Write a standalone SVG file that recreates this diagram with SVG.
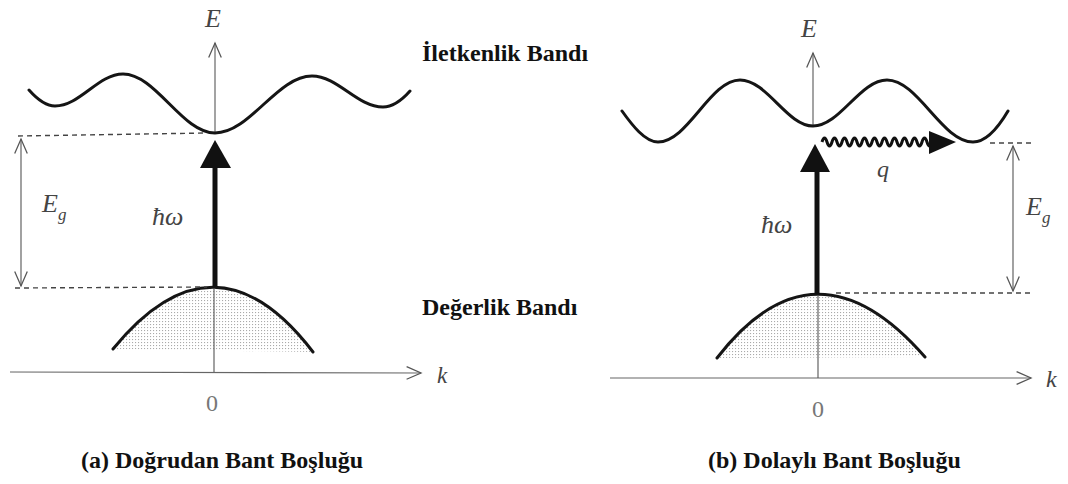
<svg xmlns="http://www.w3.org/2000/svg" width="1068" height="484" viewBox="0 0 1068 484">
<style>
.band{fill:none;stroke:#151515;stroke-width:3;stroke-linecap:round}
.axis{fill:none;stroke:#666;stroke-width:1.2}
.thin{fill:none;stroke:#555;stroke-width:1.1}
.dash{fill:none;stroke:#444;stroke-width:1.4;stroke-dasharray:5,4}
.shaft{fill:none;stroke:#111;stroke-width:5}
.head{fill:#111}
.lbl{font-family:"Liberation Serif",serif;font-weight:bold;font-size:24px;fill:#111}
.math{font-family:"Liberation Serif",serif;font-style:italic;fill:#444}
.zero{font-family:"Liberation Serif",serif;font-size:24px;fill:#777}
</style>
<defs>
<pattern id="dots" width="3" height="3" patternUnits="userSpaceOnUse">
<rect x="0" y="0" width="1.1" height="1.1" fill="#aaa"/>
</pattern>
<marker id="open" viewBox="0 0 20 20" refX="18" refY="10" markerWidth="18" markerHeight="18" markerUnits="userSpaceOnUse" orient="auto-start-reverse">
<path d="M2,3 L18,10 L2,17" fill="none" stroke="#555" stroke-width="1.4"/>
</marker>
</defs>
<rect width="1068" height="484" fill="#fff"/>

<g id="valence-a">
<path d="M113,349 Q215,224 313,352 Z" fill="url(#dots)"/>
<path class="band" d="M113,349 Q215,224 313,352"/>
</g>
<g id="valence-b">
<path d="M717,358 Q815,231 925,357 Z" fill="url(#dots)"/>
<path class="band" d="M717,358 Q815,231 925,357"/>
</g>

<g id="connectors">
<line class="axis" x1="10" y1="372" x2="421" y2="373" marker-end="url(#open)"/>
<line class="axis" x1="215" y1="133" x2="215" y2="43" marker-end="url(#open)"/>
<line class="thin" x1="214" y1="288" x2="214" y2="372"/>
<line class="axis" x1="610" y1="378" x2="1031" y2="378" marker-end="url(#open)"/>
<line class="axis" x1="813" y1="126" x2="813" y2="53" marker-end="url(#open)"/>
<line class="thin" x1="818" y1="295" x2="818" y2="378"/>
<path class="dash" d="M18,136 L207,133"/>
<path class="dash" d="M15,288 L207,287"/>
<path class="dash" d="M990,143 L1032,143"/>
<path class="dash" d="M836,293 L1034,293"/>
<line class="thin" x1="21" y1="139" x2="21" y2="286" marker-start="url(#open)" marker-end="url(#open)"/>
<line class="thin" x1="1013" y1="146" x2="1013" y2="291" marker-start="url(#open)" marker-end="url(#open)"/>
<line class="shaft" x1="215" y1="287" x2="215" y2="165"/>
<polygon class="head" points="215,140 200,168 231,168"/>
<line class="shaft" x1="817" y1="294" x2="817" y2="170"/>
<polygon class="head" points="815,144 800,172 830,172"/>
<path fill="none" stroke="#111" stroke-width="3" d="M822,142 q2.5,-8 5,0 t5,0 t5,0 t5,0 t5,0 t5,0 t5,0 t5,0 t5,0 t5,0 t5,0 t5,0 t5,0 t5,0 t5,0 t5,0 t5,0 t5,0 t5,0 t5,0 t5,0 t5,0"/>
<polygon class="head" points="929,131 956,142 929,154"/>
</g>

<g id="conduction-a">
<path class="band" d="M29,90 C37,99 46,106 55,106 C80,106 98,74 123,74 C156,74 182,133 215,133 C250,133 277,76 312,76 C338,76 357,107 383,107 C392,107 402,100 410,91"/>
</g>
<g id="conduction-b">
<path class="band" d="M622,111 C632,125 645,142 658,142 C688,142 710,80 740,80 C767,80 787,126 813,126 C840,126 860,80 887,80 C918,80 942,142 973,142 C986,142 998,128 1008,111"/>
</g>

<g id="labels-a">
<text class="math" x="205" y="27" font-size="26">E</text>
<text class="math" x="42" y="212" font-size="26">E<tspan font-size="17" dy="8">g</tspan></text>
<text class="math" x="152" y="225" font-size="26" fill="#333">ħω</text>
<text class="math" x="437" y="383" font-size="23" fill="#666">k</text>
<text class="zero" x="206" y="411">0</text>
</g>
<g id="labels-b">
<text class="math" x="801" y="37" font-size="26">E</text>
<text class="math" x="1026" y="215" font-size="26">E<tspan font-size="17" dy="8">g</tspan></text>
<text class="math" x="761" y="233" font-size="26" fill="#333">ħω</text>
<text class="math" x="877" y="177" font-size="24">q</text>
<text class="math" x="1046" y="387" font-size="24" fill="#333">k</text>
<text class="zero" x="812" y="417">0</text>
</g>

<g id="titles">
<text class="lbl" x="422" y="61">İletkenlik Bandı</text>
<text class="lbl" x="422" y="315">Değerlik Bandı</text>
<text class="lbl" x="81" y="468">(a) Doğrudan Bant Boşluğu</text>
<text class="lbl" x="708" y="468">(b) Dolaylı Bant Boşluğu</text>
</g>
</svg>
